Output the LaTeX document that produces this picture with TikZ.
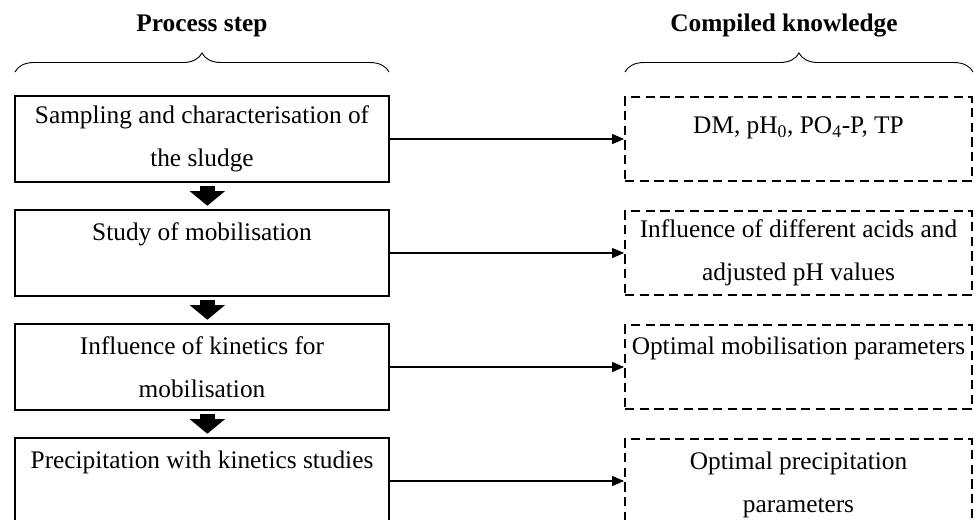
\documentclass[tikz,border=0pt]{standalone}
\usepackage{fontspec}
\setmainfont{Liberation Serif}
\usepackage{tikz}
\usetikzlibrary{arrows.meta,decorations.pathreplacing}
\newcommand{\boxline}{1.4pt}
\newcommand{\txtsize}{\fontsize{19pt}{32.25pt}\selectfont}

\begin{document}
\begin{tikzpicture}[x=0.75pt,y=-0.75pt,
  stepbox/.style={draw,line width=\boxline,minimum width=280.5pt,minimum height=64.5pt,inner sep=0pt,align=center,font=\txtsize},
  knowbox/.style={draw,line width=\boxline,dash pattern=on 7pt off 4pt,minimum width=260.25pt,minimum height=63pt,inner sep=0pt,align=center,font=\txtsize},
  flow/.style={line width=0.9pt,-{Triangle[length=9pt,width=7.5pt]}},
  down/.style={line width=11pt,-{Triangle[length=11pt,width=26pt]},shorten <=2pt,shorten >=2.5pt},
  heading/.style={font=\txtsize\bfseries,anchor=base},
  curly/.style={decorate,decoration={brace,amplitude=14.25pt},line width=0.7pt}]
\useasboundingbox (0,0) rectangle (976,519);
%headings
\node[heading] (h1) at (202,31) {Process step};
\node[heading] (h2) at (784,31) {Compiled knowledge};
\coordinate (b1) at (15,72);
\coordinate (b2) at (389,72);
\coordinate (b3) at (625,72);
\coordinate (b4) at (973,72);
\draw[curly] (b1) -- (b2);
\draw[curly] (b3) -- (b4);
%process steps
\node[stepbox] (s1) at (202,139) {Sampling and characterisation of\\the sludge};
\node[stepbox] (s2) at (202,253) {Study of mobilisation\\\mbox{}};
\node[stepbox] (s3) at (202,367) {Influence of kinetics for\\mobilisation};
\node[stepbox] (s4) at (202,481) {Precipitation with kinetics studies\\\mbox{}};
%knowledge
\node[knowbox] (k1) at (798.5,139) {DM, pH\textsubscript{0}, PO\textsubscript{4}-P, TP\\[-11.75pt]\mbox{}};
\node[knowbox] (k2) at (798.5,253) {Influence of different acids and\\adjusted pH values};
\node[knowbox] (k3) at (798.5,367) {Optimal mobilisation parameters\\\mbox{}};
\node[knowbox] (k4) at (798.5,481) {\rule{0pt}{19.5pt}Optimal precipitation\\parameters};
%arrows
\draw[flow] (s1) -- (k1);
\draw[flow] (s2) -- (k2);
\draw[flow] (s3) -- (k3);
\draw[flow] (s4) -- (k4);
\draw[down] ([xshift=4pt]s1.south) -- ([xshift=4pt]s2.north);
\draw[down] ([xshift=4pt]s2.south) -- ([xshift=4pt]s3.north);
\draw[down] ([xshift=4pt]s3.south) -- ([xshift=4pt]s4.north);
\end{tikzpicture}
\end{document}
